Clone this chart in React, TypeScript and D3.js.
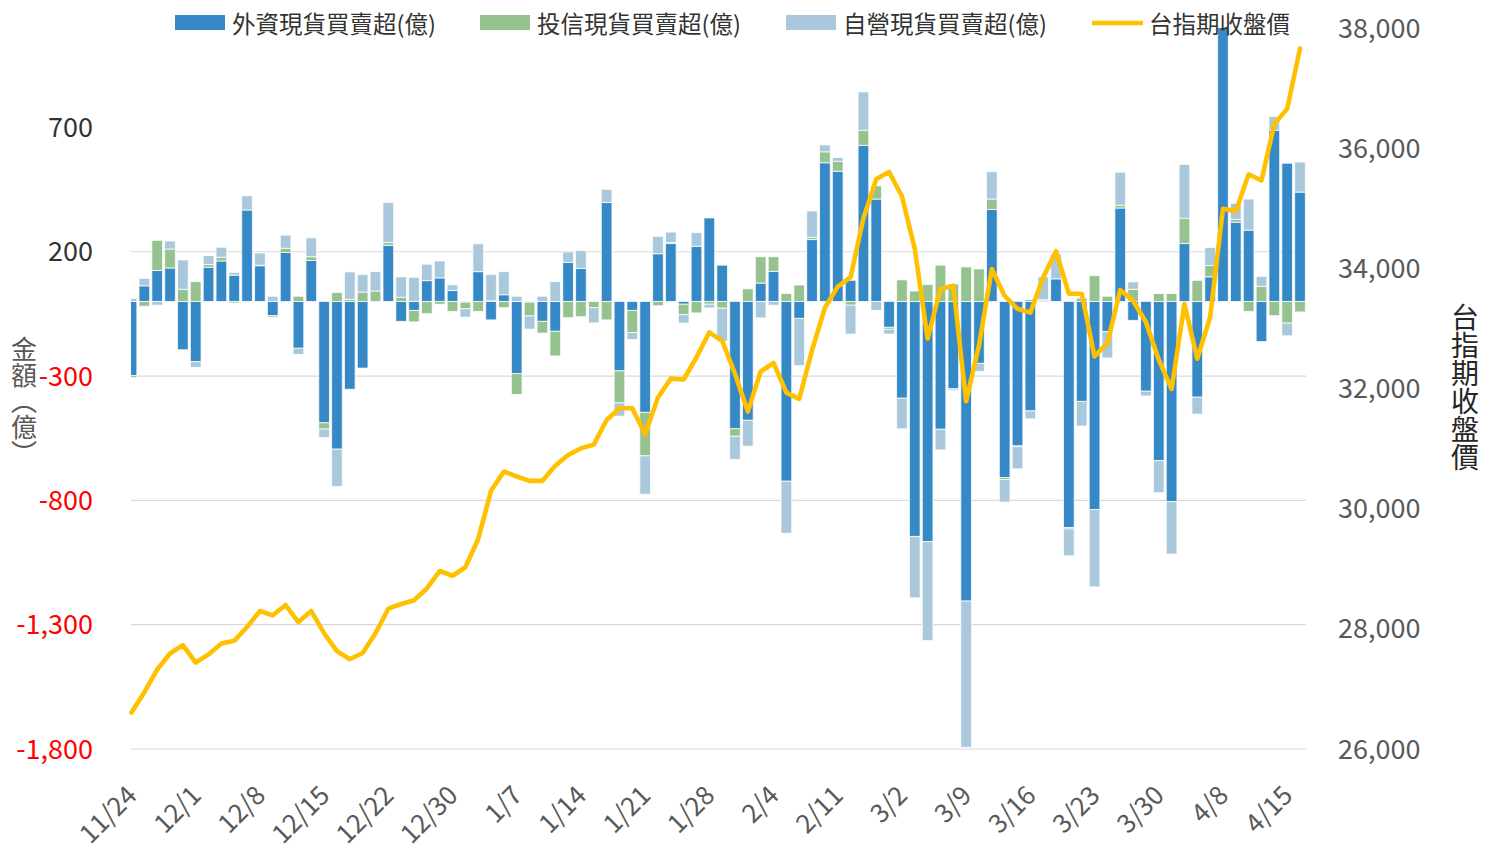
import React from "react";
import * as d3 from "d3";

// trading days, 11/24 -> 4/16
const dates = [
  "11/24", "11/25", "11/26", "11/27", "11/28",
  "12/1", "12/2", "12/3", "12/4", "12/5",
  "12/8", "12/9", "12/10", "12/11", "12/12",
  "12/15", "12/16", "12/17", "12/18", "12/19",
  "12/22", "12/23", "12/24", "12/26", "12/29",
  "12/30", "12/31", "1/2", "1/5", "1/6",
  "1/7", "1/8", "1/9", "1/12", "1/13",
  "1/14", "1/15", "1/16", "1/19", "1/20",
  "1/21", "1/22", "1/23", "1/26", "1/27",
  "1/28", "1/29", "1/30", "2/2", "2/3",
  "2/4", "2/5", "2/6", "2/9", "2/10",
  "2/11", "2/23", "2/24", "2/25", "2/26",
  "3/2", "3/3", "3/4", "3/5", "3/6",
  "3/9", "3/10", "3/11", "3/12", "3/13",
  "3/16", "3/17", "3/18", "3/19", "3/20",
  "3/23", "3/24", "3/25", "3/26", "3/27",
  "3/30", "3/31", "4/1", "4/2", "4/7",
  "4/8", "4/9", "4/10", "4/13", "4/14",
  "4/15", "4/16",
];

const foreign = [
  -298, 63, 125, 135, -194, -242, 138, 163, 106, 368,
  144, -57, 197, -188, 165, -488, -594, -353, -268, -2,
  226, -80, -36, 84, 95, 44, -3, 120, -74, 27,
  -290, -3, -80, -120, 157, 133, 0, 398, -279, -36,
  -446, 192, 233, -11, 222, 336, 146, -512, -478, 74,
  121, -723, -68, 249, 558, 524, 85, 628, 412, -104,
  -389, -945, -966, -514, -351, -1205, -249, 370, -708, -581,
  -440, 5, 91, -909, -402, -837, -121, 376, -76, -361,
  -640, -805, 233, -385, 99, 1150, 319, 287, -161, 689,
  556, 440,
];

const trust = [
  -8, -19, 121, 76, 49, 80, 11, 15, -6, -3,
  2, -6, 17, 21, 15, -25, 36, 9, 38, 42,
  11, 17, -46, -49, -11, -40, -26, -40, 3, -25,
  -84, -55, -47, -99, -65, -61, -25, -74, -129, -89,
  -175, -17, 4, -42, -46, -11, -27, -30, 51, 106,
  59, 32, 66, 9, 44, 40, -15, 61, 53, -8,
  87, 42, 68, 146, 70, 139, 131, 42, -8, -3,
  8, 2, 0, -6, 13, 104, 21, 11, 49, 0,
  32, 32, 102, 85, 46, 0, 11, -40, 61, -57,
  -87, -42,
];

const dealer = [
  12, 30, -15, 32, 118, -23, 36, 40, 11, 57,
  49, 21, 53, -25, 76, -34, -150, 110, 70, 78,
  161, 82, 97, 66, 68, 23, -34, 112, 105, 93,
  21, -53, 21, 80, 42, 72, -61, 53, -53, -28,
  -154, 70, 42, -34, 55, -15, -133, -93, -104, -66,
  -15, -209, -190, 106, 28, 15, -116, 154, -36, -19,
  -123, -247, -398, -83, -6, -588, -32, 110, -91, -89,
  -32, 92, 100, -108, -99, -311, -106, 133, 30, -19,
  -129, -211, 216, -68, 72, 0, 65, 125, 40, 55,
  -51, 121,
];

const futures = [
  26607, 26945, 27323, 27589, 27730, 27439, 27574, 27754, 27800, 28030,
  28296, 28225, 28396, 28113, 28296, 27927, 27629, 27494, 27597, 27927,
  28335, 28413, 28476, 28672, 28962, 28884, 29025, 29496, 30297, 30619,
  30535, 30463, 30463, 30713, 30894, 31004, 31067, 31475, 31671, 31671,
  31238, 31851, 32165, 32150, 32518, 32935, 32792, 32243, 31616, 32283,
  32425, 31931, 31828, 32636, 33343, 33696, 33852, 34834, 35485, 35603,
  35200, 34324, 32832, 33656, 33711, 31789, 32714, 33987, 33540, 33326,
  33263, 33852, 34285, 33578, 33578, 32535, 32754, 33641, 33460, 33107,
  32480, 31992, 33405, 32495, 33185, 34991, 34952, 35565, 35462, 36403,
  36654, 37660,
];

const seriesKeys = ["foreign", "trust", "dealer"];
const seriesNames = ["外資現貨買賣超(億)", "投信現貨買賣超(億)", "自營現貨買賣超(億)"];
const lineName = "台指期收盤價";
const leftTitle = "金額（億）";
const leftTicks = [700, 200, -300, -800, -1300, -1800];
const gridTicks = [200, -300, -800, -1300, -1800];
const rightTicks = [26000, 28000, 30000, 32000, 34000, 36000, 38000];

const colors = ["#3589C6", "#95C28E", "#A9C8DB"];
const lineColor = "#FFC000";
const font = "'Noto Sans CJK TC', 'Noto Sans', sans-serif";

const left = 131;
const right = 1306;
const top = 28;
const bottom = 749;

export default function App() {
  const rows = dates.map((d, i) => ({
    date: d,
    foreign: foreign[i],
    trust: trust[i],
    dealer: dealer[i],
  }));
  const layers = d3
    .stack()
    .keys(seriesKeys)
    .offset(d3.stackOffsetDiverging)(rows as any);

  const x = d3.scalePoint().domain(dates).range([131.5, 1300]);
  const bw = x.step() * 0.83;
  const yL = d3.scaleLinear().domain([-1800, 1100]).range([bottom, top]);
  const yR = d3.scaleLinear().domain([26000, 38000]).range([bottom, top]);
  // plain hyphen for negatives, like the original
  const fmt = (v: number) => d3.format(",")(v).replace("−", "-");

  const linePath = d3
    .line<number>()
    .x((_, i) => x(dates[i]) as number)
    .y((v) => yR(v))(futures);

  return (
    <svg
      width={1494}
      height={850}
      style={{ position: "absolute", left: 0, top: 0, background: "#fff" }}
      fontFamily={font}
    >
      <defs>
        <clipPath id="plot">
          <rect x={left} y={top} width={right - left} height={bottom - top} />
        </clipPath>
      </defs>

      {/* grid */}
      {gridTicks.map((t) => (
        <line key={t} x1={left} x2={right} y1={yL(t)} y2={yL(t)} stroke="#D9D9D9" strokeWidth={1.2} />
      ))}

      {/* bars */}
      <g clipPath="url(#plot)">
        {layers.map((layer, k) => (
          <g key={layer.key} fill={colors[k]}>
            {layer.map((d, i) => {
              const y0 = yL(d[0]);
              const y1 = yL(d[1]);
              if (Math.abs(y1 - y0) < 0.1) return null;
              return (
                <rect
                  key={i}
                  x={(x(dates[i]) as number) - bw / 2}
                  y={Math.min(y0, y1)}
                  width={bw}
                  height={Math.abs(y1 - y0)}
                  stroke="rgba(255,255,255,0.75)"
                  strokeWidth={1}
                />
              );
            })}
          </g>
        ))}
      </g>

      {/* futures line */}
      <path d={linePath || ""} fill="none" stroke={lineColor} strokeWidth={4.6} strokeLinejoin="round" strokeLinecap="round" />

      {/* left axis */}
      {leftTicks.map((t) => (
        <text
          key={t}
          x={93}
          y={yL(t) - 2}
          textAnchor="end"
          dominantBaseline="central"
          fontSize={27}
          fill={t < 0 ? "#FF0000" : "#333333"}
        >
          {fmt(t)}
        </text>
      ))}
      <text
        x={24}
        y={336}
        fontSize={26}
        fill="#595959"
        style={{ writingMode: "vertical-rl" } as any}
      >
        {leftTitle}
      </text>

      {/* right axis */}
      {rightTicks.map((t) => (
        <text key={t} x={1338} y={yR(t) - 2} dominantBaseline="central" fontSize={27} fill="#595959">
          {fmt(t)}
        </text>
      ))}
      <text
        x={1465}
        y={303}
        fontSize={28}
        fill="#262626"
        style={{ writingMode: "vertical-rl" } as any}
      >
        {lineName}
      </text>

      {/* x axis labels */}
      {dates.map((d, i) =>
        i % 5 === 0 ? (
          <text
            key={d}
            transform={`translate(${(x(d) as number) + 7},797) rotate(-45)`}
            textAnchor="end"
            fontSize={26}
            fill="#595959"
          >
            {d}
          </text>
        ) : null
      )}

      {/* legend */}
      {seriesNames.map((name, k) => {
        const lx = [175, 480, 786][k];
        return (
          <g key={name}>
            <rect x={lx} y={15} width={50} height={15} fill={colors[k]} />
            <text x={lx + 57} y={23} dominantBaseline="central" fontSize={23.5} fill="#333333">
              {name}
            </text>
          </g>
        );
      })}
      <line x1={1092} x2={1143} y1={23} y2={23} stroke={lineColor} strokeWidth={4.6} />
      <text x={1149} y={23} dominantBaseline="central" fontSize={23.5} fill="#333333">
        {lineName}
      </text>
    </svg>
  );
}
